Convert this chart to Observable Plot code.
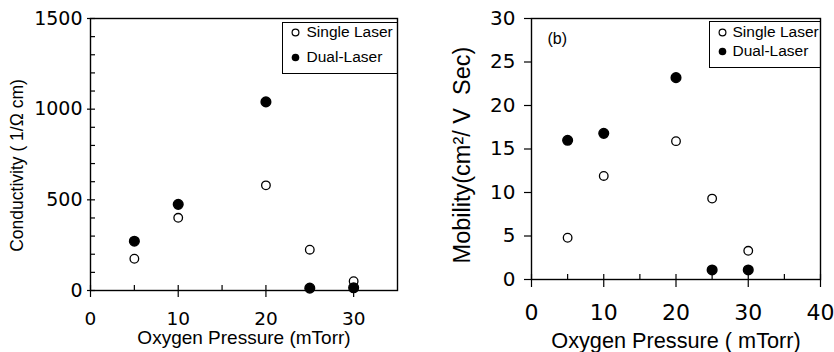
<!DOCTYPE html>
<html><head><meta charset="utf-8">
<script src="https://cdn.jsdelivr.net/npm/d3@7"></script>
<script src="https://cdn.jsdelivr.net/npm/@observablehq/plot@0.6"></script>
<style>
body{margin:0;background:#fff;width:834px;height:352px;overflow:hidden;position:relative;font-family:"Liberation Sans",Arial,sans-serif}
#a,#b{position:absolute;top:0}
#a{left:0}#b{left:420px}
svg text{white-space:pre}
</style></head><body><div id="a"></div><div id="b"></div>
<script>
// ---- data ----
const pressure = [5, 10, 20, 25, 30];
const condSingle = [175, 401, 580, 225, 51];
const condDual = [272, 475, 1040, 13, 15];
const mobSingle = [4.8, 11.9, 15.9, 9.3, 3.3];
const mobDual = [16.0, 16.8, 23.2, 1.1, 1.1];
const seriesNames = ["Single Laser", "Dual-Laser"];

// ---- ticks ----
const condXTicks = [0, 10, 20, 30];
const condXMinor = [5, 15, 25];
const condYTicks = [0, 500, 1000, 1500];
const condYMinor = [100, 200, 300, 400, 600, 700, 800, 900, 1100, 1200, 1300, 1400];
const mobXTicks = [0, 10, 20, 30, 40];
const mobXMinor = [5, 15, 25, 35];
const mobYTicks = [0, 5, 10, 15, 20, 25, 30];

const condTitleX = "Oxygen Pressure (mTorr)";
const condTitleY = "Conductivity ( 1/\u03A9 cm)";
const mobTitleX = "Oxygen Pressure ( mTorr)";
const mobTitleY = "Mobility(cm\u00B2/ V  Sec)";
const panelTag = "(b)";

const FONT = '"Liberation Sans", Arial, sans-serif';
const TICKFONT = '"DejaVu Sans", "Liberation Sans", sans-serif';
const rows = (ys) => pressure.map((p, i) => ({p, v: ys[i]}));

// ---- left panel ----
const left = Plot.plot({
  width: 410, height: 352,
  marginLeft: 90, marginRight: 13, marginTop: 18, marginBottom: 62,
  style: {fontFamily: FONT, color: "black", background: "white"},
  x: {domain: [0, 35]},
  y: {domain: [0, 1500]},
  marks: [
    Plot.frame({stroke: "black", strokeWidth: 1.4}),
    Plot.axisX(condXTicks, {tickSize: 7, tickPadding: 14, fontSize: 18.5, fontFamily: TICKFONT, tickFormat: "d", label: null, strokeWidth: 1.2}),
    Plot.axisX([...condXTicks, ...condXMinor], {tickSize: 5, dy: -5, text: null, label: null, strokeWidth: 1.2}),
    Plot.axisY(condYTicks, {tickSize: 3, tickPadding: 5, fontSize: 19, fontFamily: TICKFONT, tickFormat: "d", label: null, strokeWidth: 1.2}),
    Plot.axisY([...condYTicks, ...condYMinor], {tickSize: 5, dx: 5, text: null, label: null, strokeWidth: 1.2}),
    Plot.dot(rows(condSingle), {x: "p", y: "v", r: 4.3, stroke: "black", strokeWidth: 1.3, fill: "white"}),
    Plot.dot(rows(condDual), {x: "p", y: "v", r: 4.8, fill: "black", stroke: "black"}),
    Plot.text([condTitleX], {frameAnchor: "bottom", dy: 47, lineAnchor: "middle", textAnchor: "middle", fontSize: 19}),
    Plot.text([condTitleY], {frameAnchor: "left", rotate: -90, dx: -73, dy: 11, lineAnchor: "middle", textAnchor: "middle", fontSize: 17.5}),
    // legend
    Plot.frame({stroke: "black", strokeWidth: 1, insetLeft: 192, insetTop: 4, insetBottom: 217}),
    Plot.dot([seriesNames[0]], {frameAnchor: "top-left", dx: 205, dy: 14, r: 3.4, stroke: "black", strokeWidth: 1.2, fill: "white"}),
    Plot.dot([seriesNames[1]], {frameAnchor: "top-left", dx: 205, dy: 39, r: 3.8, fill: "black"}),
    Plot.text([seriesNames[0]], {frameAnchor: "top-left", dx: 216, dy: 14, lineAnchor: "middle", textAnchor: "start", fontSize: 15.5}),
    Plot.text([seriesNames[1]], {frameAnchor: "top-left", dx: 216, dy: 39, lineAnchor: "middle", textAnchor: "start", fontSize: 15.5})
  ]
});
document.getElementById("a").append(left);

// ---- right panel ----
const right = Plot.plot({
  width: 414, height: 352,
  marginLeft: 111, marginRight: 14, marginTop: 18, marginBottom: 73,
  style: {fontFamily: FONT, color: "black", background: "white"},
  x: {domain: [0, 40]},
  y: {domain: [0, 30]},
  marks: [
    Plot.frame({stroke: "black", strokeWidth: 1.4}),
    Plot.axisX(mobXTicks, {tickSize: 8, tickPadding: 17, fontSize: 22, fontFamily: TICKFONT, tickFormat: "d", label: null, strokeWidth: 1.2}),
    Plot.axisX([...mobXTicks, ...mobXMinor], {tickSize: 5, dy: -5, text: null, label: null, strokeWidth: 1.2}),
    Plot.axisY(mobYTicks, {tickSize: 7, tickPadding: 9, fontSize: 20, fontFamily: TICKFONT, tickFormat: "d", label: null, strokeWidth: 1.2}),
    Plot.dot(rows(mobSingle), {x: "p", y: "v", r: 4.3, stroke: "black", strokeWidth: 1.3, fill: "white"}),
    Plot.dot(rows(mobDual), {x: "p", y: "v", r: 4.8, fill: "black", stroke: "black"}),
    Plot.text([mobTitleX], {frameAnchor: "bottom", dy: 62, lineAnchor: "middle", textAnchor: "middle", fontSize: 21.7}),
    Plot.text([mobTitleY], {frameAnchor: "left", rotate: -90, dx: -69, dy: 6, lineAnchor: "middle", textAnchor: "middle", fontSize: 23.5}),
    Plot.text([panelTag], {frameAnchor: "top-left", dx: 16, dy: 20, lineAnchor: "middle", textAnchor: "start", fontSize: 16}),
    // legend
    Plot.frame({stroke: "black", strokeWidth: 1, insetLeft: 178, insetTop: 3, insetBottom: 212}),
    Plot.dot([seriesNames[0]], {frameAnchor: "top-left", dx: 191, dy: 14, r: 3.4, stroke: "black", strokeWidth: 1.2, fill: "white"}),
    Plot.dot([seriesNames[1]], {frameAnchor: "top-left", dx: 191, dy: 33, r: 3.8, fill: "black"}),
    Plot.text([seriesNames[0]], {frameAnchor: "top-left", dx: 201, dy: 14, lineAnchor: "middle", textAnchor: "start", fontSize: 15.5}),
    Plot.text([seriesNames[1]], {frameAnchor: "top-left", dx: 201, dy: 33, lineAnchor: "middle", textAnchor: "start", fontSize: 15.5})
  ]
});
document.getElementById("b").append(right);
</script>
</body></html>
